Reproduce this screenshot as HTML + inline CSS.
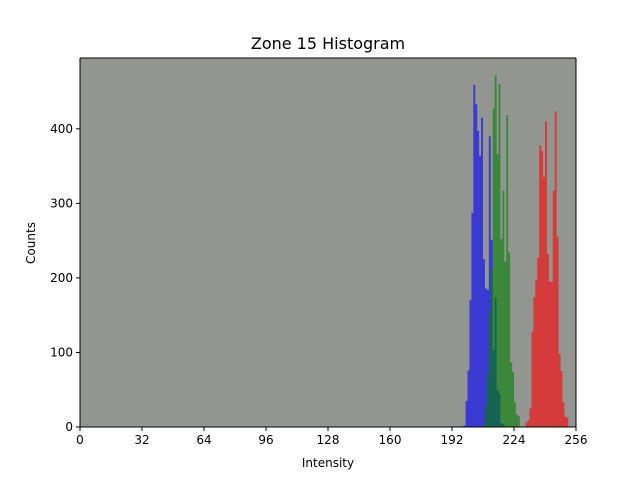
<!DOCTYPE html>
<html><head><meta charset="utf-8"><style>
body{margin:0;background:#fff;font-family:"Liberation Sans","DejaVu Sans",sans-serif;}
svg text{font-family:"DejaVu Sans","Liberation Sans",sans-serif;}
</style></head><body>
<svg id="chart" width="640" height="480" xmlns="http://www.w3.org/2000/svg">
<rect width="640" height="480" fill="#fff"/>
<text x="328" y="49" font-size="16" text-anchor="middle">Zone 15 Histogram</text>
<rect x="80" y="58" width="496" height="369" fill="#939591"/>
<g id="bars"></g>
<g id="axes"></g>
<text x="328" y="467" font-size="12" text-anchor="middle">Intensity</text>
<text transform="translate(35,243) rotate(-90)" font-size="12" text-anchor="middle">Counts</text>
</svg>
<script>
const blueStart = 197;
const blueCounts = [1,2,35,76,170,287,459,433,397,364,415,225,186,184,390,251,103,173,50,45,5,4];
const greenStart = 207;
const greenCounts = [1,2,29,72,155,212,427,472,366,460,252,317,222,418,234,87,74,33,17,15];
const redStart = 230;
const redCounts = [6,9,25,128,174,197,227,378,370,335,410,232,195,195,317,423,255,98,75,33,14,13];
const xTicks = [0,32,64,96,128,160,192,224,256];
const yTicks = [0,100,200,300,400];
const X0=80,X1=576,Y0=427,Y1=58,XMAX=256,YMAX=495;
const sx=v=>X0+(v/XMAX)*(X1-X0);
const sy=v=>Y0-(v/YMAX)*(Y0-Y1);
const NS="http://www.w3.org/2000/svg";
const bars=document.getElementById('bars');
function draw(start,counts,color,name){
  let d=`M${sx(start)},${Y0}`;
  counts.forEach((c,i)=>{
    const b=start+i;
    d+=` L${sx(b)},${sy(c)} L${sx(b+1)},${sy(c)}`;
  });
  d+=` L${sx(start+counts.length)},${Y0} Z`;
  const p=document.createElementNS(NS,'path');
  p.setAttribute('d',d);
  p.setAttribute('fill',color);p.setAttribute('fill-opacity','0.6');
  
  
  bars.appendChild(p);
}
draw(blueStart,blueCounts,'#0000ff','blue');
draw(greenStart,greenCounts,'#008000','green');
draw(redStart,redCounts,'#ff0000','red');
const ax=document.getElementById('axes');
let h='';
h+=`<line x1="${X0}" y1="${Y0}" x2="${X1}" y2="${Y0}" stroke="#000" stroke-width="1"/>`;
h+=`<line x1="${X0}" y1="${Y0}" x2="${X0}" y2="${Y1}" stroke="#000" stroke-width="1"/>`;
h+=`<line x1="${X1}" y1="${Y0}" x2="${X1}" y2="${Y1}" stroke="#000" stroke-width="1"/>`;
h+=`<line x1="${X0}" y1="${Y1}" x2="${X1}" y2="${Y1}" stroke="#000" stroke-width="1"/>`;
xTicks.forEach(t=>{const x=sx(t);
 h+=`<line x1="${x}" y1="${Y0}" x2="${x}" y2="${Y0+4}" stroke="#000"/>`;
 h+=`<text x="${x}" y="${Y0+17}" font-size="12" text-anchor="middle">${t}</text>`;});
yTicks.forEach(t=>{const y=sy(t);
 h+=`<line x1="${X0-4}" y1="${y}" x2="${X0}" y2="${y}" stroke="#000"/>`;
 h+=`<text x="${X0-7}" y="${y+4}" font-size="12" text-anchor="end">${t}</text>`;});
ax.innerHTML=h;
</script>
</body></html>
